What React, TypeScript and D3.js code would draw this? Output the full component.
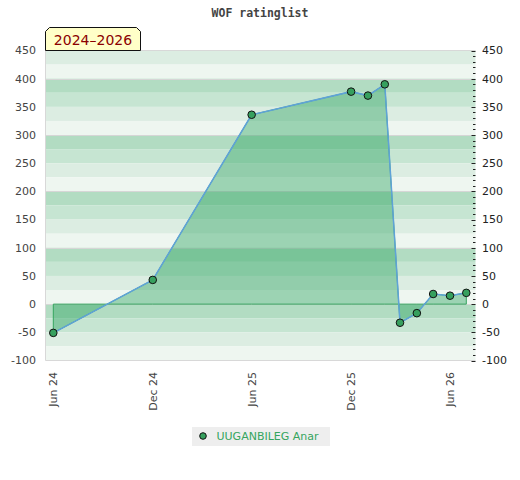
import * as d3 from 'd3';
import { useEffect, useRef } from 'react';

// monthly rating list points
const dates = [
  '2024-06-01', '2024-12-01', '2025-06-01', '2025-12-01', '2026-01-01', '2026-02-01',
  '2026-03-01', '2026-04-01', '2026-05-01', '2026-06-01', '2026-07-01',
];
const ratings = [-51, 43, 336, 377, 370, 390, -33, -16, 18, 15, 20];
const xTickDates = ['2024-06-01', '2024-12-01', '2025-06-01', '2025-12-01', '2026-06-01'];
const yTicks = [450, 400, 350, 300, 250, 200, 150, 100, 50, 0, -50, -100];
const playerName = 'UUGANBILEG Anar';
const periodLabel = '2024–2026';
const title = 'WOF ratinglist';

const W = 520;
const H = 480;
const left = 45.5;
const right = 475.5;
const top = 50.5;
const bottom = 360.5;
const bandColors = ['#b2dcc2', '#c6e5d2', '#dcede2', '#eef6f0'];

export default function App() {
  const svgRef = useRef<SVGSVGElement>(null);

  useEffect(() => {
    if (!svgRef.current) return;
    const svg = d3.select(svgRef.current);
    const data = dates.map((d, i) => ({ date: new Date(d + 'T00:00:00Z'), v: ratings[i] }));

    const x = d3
      .scaleUtc()
      .domain([new Date('2024-06-01T00:00:00Z'), new Date('2026-07-01T00:00:00Z')])
      .range([53.3, 466.3]);
    const y = d3.scaleLinear().domain([-100, 450]).range([bottom, top]);

    svg
      .append('text')
      .attr('x', 260)
      .attr('y', 17)
      .attr('text-anchor', 'middle')
      .attr('font-family', 'DejaVu Sans Mono')
      .attr('font-weight', 'bold')
      .attr('font-size', 11.5)
      .attr('fill', '#444')
      .text(title);

    const plot = svg.append('g');

    // striped bands, 25 units each
    const bandStarts = d3.range(450, -100, -25);
    plot
      .selectAll('rect.band')
      .data(bandStarts)
      .join('rect')
      .attr('x', left)
      .attr('width', right - left)
      .attr('y', (d) => y(d))
      .attr('height', (d) => y(d - 25) - y(d))
      .attr('fill', (d) => {
        const k = (((400 - d) % 100) + 100) % 100;
        return bandColors[k / 25];
      });

    plot
      .selectAll('line.grid')
      .data([400, 300, 200, 100, 0])
      .join('line')
      .attr('x1', left)
      .attr('x2', right)
      .attr('y1', (d) => Math.round(y(d)) + 0.5)
      .attr('y2', (d) => Math.round(y(d)) + 0.5)
      .attr('stroke', '#d6d6d6');

    plot
      .append('path')
      .attr('d', `M${left},${top}H${right}M${left},${top}V${bottom}H${right}`)
      .attr('fill', 'none')
      .attr('stroke', '#d8d8d8');

    // right minor/major ticks
    const minor = d3.range(-100, 451, 10);
    plot
      .selectAll('line.tick')
      .data(minor)
      .join('line')
      .attr('x1', (d) => (d % 50 === 0 ? right - 4 : right - 2.5))
      .attr('x2', right)
      .attr('y1', (d) => Math.round(y(d)) + 0.5)
      .attr('y2', (d) => Math.round(y(d)) + 0.5)
      .attr('stroke', '#222');

    const area = d3
      .area<{ date: Date; v: number }>()
      .x((d) => x(d.date))
      .y0(y(0))
      .y1((d) => y(d.v));
    const ln = d3
      .line<{ date: Date; v: number }>()
      .x((d) => x(d.date))
      .y((d) => y(d.v));

    plot
      .append('path')
      .datum(data)
      .attr('d', area)
      .attr('fill', 'rgba(44,162,95,0.42)')
      .attr('stroke', '#35a55e')
      .attr('stroke-width', 1);

    plot
      .append('path')
      .datum(data)
      .attr('d', ln)
      .attr('fill', 'none')
      .attr('stroke', '#5fa2d8')
      .attr('stroke-width', 1.5);

    plot
      .selectAll('circle.pt')
      .data(data)
      .join('circle')
      .attr('cx', (d) => x(d.date))
      .attr('cy', (d) => y(d.v))
      .attr('r', 3.8)
      .attr('fill', '#36a05e')
      .attr('stroke', '#111')
      .attr('stroke-width', 1);

    // y labels
    svg
      .selectAll('text.yl')
      .data(yTicks)
      .join('text')
      .attr('x', 36)
      .attr('y', (d) => y(d))
      .attr('dy', '0.35em')
      .attr('text-anchor', 'end')
      .attr('font-family', 'DejaVu Sans')
      .attr('font-size', 11)
      .attr('fill', '#444')
      .text((d) => d);
    svg
      .selectAll('text.yr')
      .data(yTicks)
      .join('text')
      .attr('x', 482)
      .attr('y', (d) => y(d))
      .attr('dy', '0.35em')
      .attr('font-family', 'DejaVu Sans')
      .attr('font-size', 11)
      .attr('fill', '#222')
      .text((d) => d);

    // x labels rotated
    const fmt = d3.utcFormat('%b %y');
    svg
      .selectAll('text.xl')
      .data(xTickDates.map((d) => new Date(d + 'T00:00:00Z')))
      .join('text')
      .attr('transform', (d) => `translate(${x(d)},${372}) rotate(-90)`)
      .attr('dy', '0.35em')
      .attr('text-anchor', 'end')
      .attr('font-family', 'DejaVu Sans')
      .attr('font-size', 11)
      .attr('fill', '#444')
      .text((d) => fmt(d));

    // period badge
    const bx0 = 45.5;
    const bx1 = 140.5;
    const by0 = 27.5;
    const by1 = 50.5;
    const c = 4;
    svg
      .append('path')
      .attr('d', `M${bx0},${by1}V${by0 + c}L${bx0 + c},${by0}H${bx1 - c}L${bx1},${by0 + c}V${by1}Z`)
      .attr('fill', '#ffffc8')
      .attr('stroke', '#111')
      .attr('stroke-width', 1);
    svg
      .append('text')
      .attr('x', (bx0 + bx1) / 2)
      .attr('y', 45)
      .attr('text-anchor', 'middle')
      .attr('font-family', 'DejaVu Sans')
      .attr('font-size', 14)
      .attr('fill', '#8b0000')
      .text(periodLabel);

    // legend
    const lg = svg.append('g');
    lg.append('rect').attr('x', 192).attr('y', 427).attr('width', 138).attr('height', 19).attr('fill', '#eeeeee');
    lg.append('circle')
      .attr('cx', 203)
      .attr('cy', 436)
      .attr('r', 3.3)
      .attr('fill', '#36a05e')
      .attr('stroke', '#111');
    lg.append('text')
      .attr('x', 216.5)
      .attr('y', 436)
      .attr('dy', '0.35em')
      .attr('font-family', 'DejaVu Sans')
      .attr('font-size', 11)
      .attr('fill', '#35a55e')
      .text(playerName);

    return () => {
      svg.selectAll('*').remove();
    };
  }, []);

  return (
    <svg
      ref={svgRef}
      width={W}
      height={H}
      style={{ position: 'absolute', left: 0, top: 0, background: '#fff' }}
    />
  );
}
